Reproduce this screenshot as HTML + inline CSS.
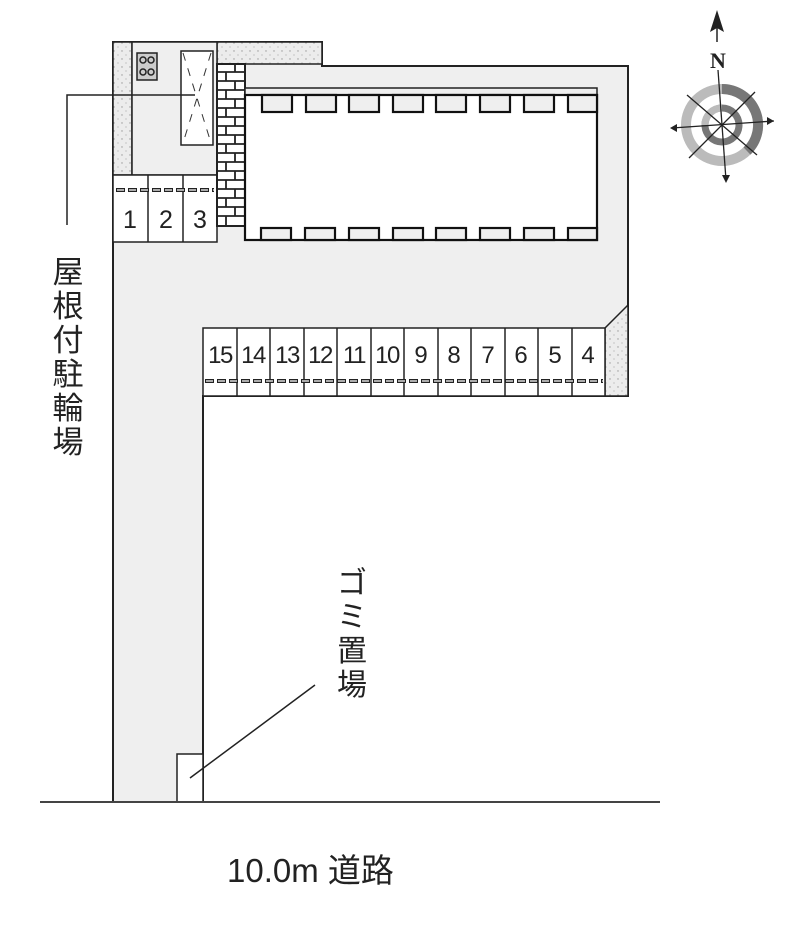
<!DOCTYPE html>
<html><head><meta charset="utf-8"><style>
html,body{margin:0;padding:0;background:#fff;}
svg{display:block;}
text{font-family:"Liberation Sans","Noto Sans CJK JP",sans-serif;fill:#222;}
</style></head><body>
<svg width="800" height="941" viewBox="0 0 800 941" xmlns="http://www.w3.org/2000/svg">
<defs>
<pattern id="dots" width="8" height="8" patternUnits="userSpaceOnUse">
<rect width="8" height="8" fill="#ececec"/>
<circle cx="2" cy="3" r="0.7" fill="#999"/><circle cx="6" cy="7" r="0.6" fill="#aaa"/>
</pattern>
</defs>
<polygon points="113,42 322,42 322,66 628,66 628,396 203,396 203,802 113,802" fill="#efefef" stroke="#222" stroke-width="2"/>
<rect x="113" y="42" width="19" height="133" fill="url(#dots)" stroke="#222" stroke-width="1.5"/>
<rect x="217" y="42" width="105" height="22" fill="url(#dots)" stroke="#222" stroke-width="1.5"/>
<polygon points="605,328 628,305 628,396 605,396" fill="url(#dots)" stroke="#222" stroke-width="1.5"/>
<rect x="132" y="42" width="85" height="133" fill="#efefef" stroke="#222" stroke-width="1.5"/>
<rect x="137" y="53" width="20" height="27" fill="#ccc" stroke="#222" stroke-width="1.5"/>
<circle cx="143" cy="60" r="3" fill="none" stroke="#222" stroke-width="1.5"/><circle cx="151" cy="60" r="3" fill="none" stroke="#222" stroke-width="1.5"/>
<circle cx="143" cy="72" r="3" fill="none" stroke="#222" stroke-width="1.5"/><circle cx="151" cy="72" r="3" fill="none" stroke="#222" stroke-width="1.5"/>
<rect x="181" y="51" width="32" height="94" fill="#fff" stroke="#222" stroke-width="1.5"/>
<line x1="183" y1="53" x2="211" y2="143" stroke="#333" stroke-width="1" stroke-dasharray="8,8"/>
<line x1="211" y1="53" x2="183" y2="143" stroke="#333" stroke-width="1" stroke-dasharray="8,8"/>
<rect x="113" y="175" width="104" height="67" fill="#fff" stroke="#222" stroke-width="1.5"/>
<line x1="148" y1="175" x2="148" y2="242" stroke="#222" stroke-width="1.5"/>
<line x1="183" y1="175" x2="183" y2="242" stroke="#222" stroke-width="1.5"/>
<line x1="116" y1="190" x2="214" y2="190" stroke="#222" stroke-width="4" stroke-dasharray="9,3"/>
<line x1="117" y1="190" x2="214" y2="190" stroke="#fff" stroke-width="1.2" stroke-dasharray="7,5"/>
<text x="130" y="228" font-size="25" text-anchor="middle">1</text>
<text x="166" y="228" font-size="25" text-anchor="middle">2</text>
<text x="200" y="228" font-size="25" text-anchor="middle">3</text>
<rect x="217" y="64" width="28" height="162" fill="#fff" stroke="#222" stroke-width="2"/>
<g stroke="#222" stroke-width="1.8">
<line x1="217" y1="72" x2="245" y2="72"/><line x1="217" y1="81" x2="245" y2="81"/><line x1="217" y1="90" x2="245" y2="90"/><line x1="217" y1="99" x2="245" y2="99"/><line x1="217" y1="108" x2="245" y2="108"/><line x1="217" y1="117" x2="245" y2="117"/><line x1="217" y1="126" x2="245" y2="126"/><line x1="217" y1="135" x2="245" y2="135"/><line x1="217" y1="144" x2="245" y2="144"/><line x1="217" y1="153" x2="245" y2="153"/><line x1="217" y1="162" x2="245" y2="162"/><line x1="217" y1="171" x2="245" y2="171"/><line x1="217" y1="180" x2="245" y2="180"/><line x1="217" y1="189" x2="245" y2="189"/><line x1="217" y1="198" x2="245" y2="198"/><line x1="217" y1="207" x2="245" y2="207"/><line x1="217" y1="216" x2="245" y2="216"/>
<line x1="235" y1="64" x2="235" y2="72"/><line x1="226" y1="72" x2="226" y2="81"/><line x1="235" y1="81" x2="235" y2="90"/><line x1="226" y1="90" x2="226" y2="99"/><line x1="235" y1="99" x2="235" y2="108"/><line x1="226" y1="108" x2="226" y2="117"/><line x1="235" y1="117" x2="235" y2="126"/><line x1="226" y1="126" x2="226" y2="135"/><line x1="235" y1="135" x2="235" y2="144"/><line x1="226" y1="144" x2="226" y2="153"/><line x1="235" y1="153" x2="235" y2="162"/><line x1="226" y1="162" x2="226" y2="171"/><line x1="235" y1="171" x2="235" y2="180"/><line x1="226" y1="180" x2="226" y2="189"/><line x1="235" y1="189" x2="235" y2="198"/><line x1="226" y1="198" x2="226" y2="207"/><line x1="235" y1="207" x2="235" y2="216"/><line x1="226" y1="216" x2="226" y2="226"/>
</g>
<rect x="245" y="88" width="352" height="7" fill="#efefef" stroke="#222" stroke-width="1.5"/>
<rect x="245" y="95" width="352" height="145" fill="#fff" stroke="#111" stroke-width="2.2"/>
<g fill="#efefef" stroke="#111" stroke-width="2.2">
<rect x="262" y="95" width="30" height="17"/><rect x="306" y="95" width="30" height="17"/><rect x="349" y="95" width="30" height="17"/><rect x="393" y="95" width="30" height="17"/><rect x="436" y="95" width="30" height="17"/><rect x="480" y="95" width="30" height="17"/><rect x="524" y="95" width="30" height="17"/><rect x="568" y="95" width="29" height="17"/>
<rect x="261" y="228" width="30" height="12"/><rect x="305" y="228" width="30" height="12"/><rect x="349" y="228" width="30" height="12"/><rect x="393" y="228" width="30" height="12"/><rect x="436" y="228" width="30" height="12"/><rect x="480" y="228" width="30" height="12"/><rect x="524" y="228" width="30" height="12"/><rect x="568" y="228" width="29" height="12"/>
</g>
<rect x="203" y="328" width="402" height="68" fill="#fff" stroke="#222" stroke-width="1.5"/>
<g stroke="#222" stroke-width="1.5">
<line x1="237" y1="328" x2="237" y2="396"/><line x1="270" y1="328" x2="270" y2="396"/><line x1="304" y1="328" x2="304" y2="396"/><line x1="337" y1="328" x2="337" y2="396"/><line x1="371" y1="328" x2="371" y2="396"/><line x1="404" y1="328" x2="404" y2="396"/><line x1="438" y1="328" x2="438" y2="396"/><line x1="471" y1="328" x2="471" y2="396"/><line x1="505" y1="328" x2="505" y2="396"/><line x1="538" y1="328" x2="538" y2="396"/><line x1="572" y1="328" x2="572" y2="396"/>
</g>
<line x1="205" y1="381" x2="603" y2="381" stroke="#222" stroke-width="4" stroke-dasharray="9,3"/>
<line x1="206" y1="381" x2="603" y2="381" stroke="#fff" stroke-width="1.2" stroke-dasharray="7,5"/>
<g font-size="24" text-anchor="middle">
<text x="220" y="363" letter-spacing="-1.5">15</text><text x="253" y="363" letter-spacing="-1.5">14</text><text x="287" y="363" letter-spacing="-1.5">13</text><text x="320" y="363" letter-spacing="-1.5">12</text><text x="354" y="363" letter-spacing="-1.5">11</text><text x="387" y="363" letter-spacing="-1.5">10</text><text x="421" y="363">9</text><text x="454" y="363">8</text><text x="488" y="363">7</text><text x="521" y="363">6</text><text x="555" y="363">5</text><text x="588" y="363">4</text>
</g>
<polyline points="67,225 67,95 195,95" fill="none" stroke="#222" stroke-width="1.5"/>
<g font-size="31" text-anchor="middle">
<text x="68" y="283">屋</text><text x="68" y="317">根</text><text x="68" y="351">付</text><text x="68" y="385">駐</text><text x="68" y="419">輪</text><text x="68" y="453">場</text>
</g>
<rect x="177" y="754" width="26" height="48" fill="#fff" stroke="#222" stroke-width="1.5"/>
<line x1="190" y1="778" x2="315" y2="685" stroke="#222" stroke-width="1.5"/>
<g font-size="30" text-anchor="middle">
<text x="352" y="593">ゴ</text><text x="352" y="627">ミ</text><text x="352" y="661">置</text><text x="352" y="695">場</text>
</g>
<line x1="40" y1="802" x2="660" y2="802" stroke="#444" stroke-width="2"/>
<text x="227" y="882" font-size="33">10.0m 道路</text>
<g transform="translate(722,125)">
<circle r="36" fill="none" stroke="#bbb" stroke-width="10"/>
<path d="M 0,-36 A 36 36 0 0 1 25,26" fill="none" stroke="#777" stroke-width="10"/>
<circle r="17" fill="none" stroke="#777" stroke-width="7"/>
<path d="M -17,0 A 17 17 0 0 1 0,-17" fill="none" stroke="#bbb" stroke-width="7"/>
<g stroke="#222" stroke-width="1.3">
<line x1="-4" y1="-55" x2="4" y2="55"/><line x1="-50" y1="3" x2="52" y2="-4"/>
<line x1="-35" y1="-30" x2="35" y2="30"/><line x1="33" y1="-33" x2="-33" y2="33"/>
</g>
<polygon points="52,-4 45,-8 45,0" fill="#222"/><polygon points="-52,3 -45,-1 -45,7" fill="#222"/>
<polygon points="4,58 0,50 8,50" fill="#222"/>
</g>
<line x1="717" y1="28" x2="717" y2="42" stroke="#222" stroke-width="1.5"/>
<polygon points="717,10 710,32 717,28 724,32" fill="#222"/>
<text x="718" y="68" font-size="22" font-weight="bold" text-anchor="middle" style="font-family:'Liberation Serif',serif">N</text>
</svg>
</body></html>
